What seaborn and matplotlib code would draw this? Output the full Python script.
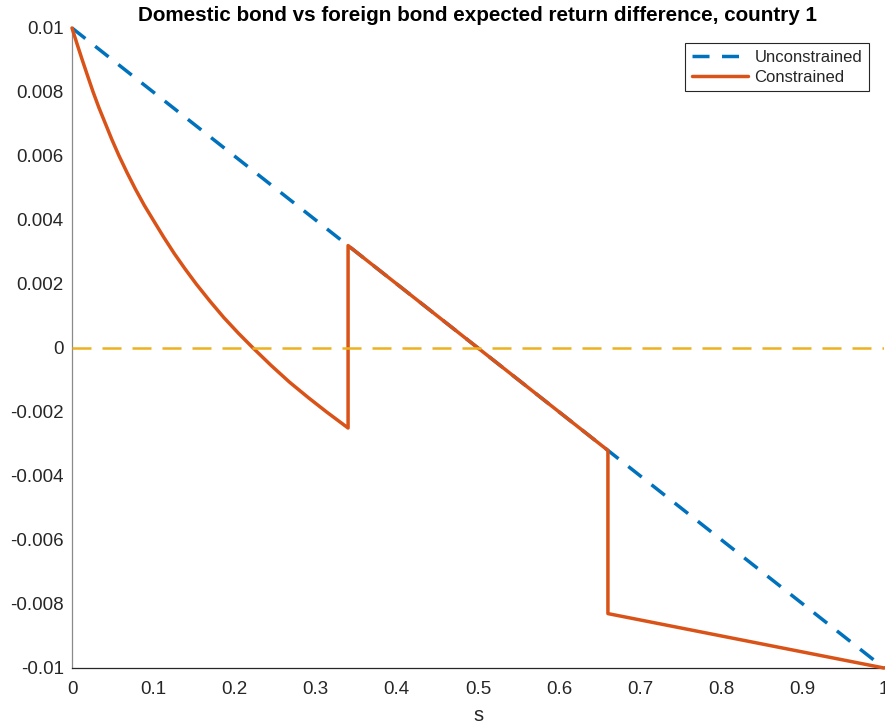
import matplotlib
matplotlib.use("Agg")
import matplotlib.pyplot as plt
import pandas as pd
import seaborn as sns

# Expected return difference (domestic minus foreign bond) against the state s
s_unconstrained = [0.0, 1.0]
r_unconstrained = [0.01, -0.01]

s_constrained = [0.0, 0.006, 0.012, 0.019, 0.026, 0.033, 0.041, 0.049, 0.058,
                 0.068, 0.078, 0.089, 0.100, 0.113, 0.126, 0.139, 0.153, 0.170,
                 0.187, 0.205, 0.223, 0.245, 0.268, 0.291, 0.3136, 0.34,
                 0.34, 0.66, 0.66, 1.0]
r_constrained = [0.0100, 0.00952, 0.00905, 0.00852, 0.0080, 0.00752, 0.00702,
                 0.00652, 0.0060, 0.00547, 0.00497, 0.00446, 0.0040, 0.00346,
                 0.00295, 0.00248, 0.0020, 0.00146, 0.00095, 0.00046, 0.0,
                 -0.00054, -0.00107, -0.00155, -0.0020, -0.0025,
                 0.0032, -0.0032, -0.0083, -0.0100]

x_ticks = [0.0, 0.1, 0.2, 0.3, 0.4, 0.5, 0.6, 0.7, 0.8, 0.9, 1.0]
x_tick_labels = ["0", "0.1", "0.2", "0.3", "0.4", "0.5", "0.6", "0.7", "0.8", "0.9", "1"]
y_ticks = [-0.01, -0.008, -0.006, -0.004, -0.002, 0.0, 0.002, 0.004, 0.006, 0.008, 0.01]
y_tick_labels = ["-0.01", "-0.008", "-0.006", "-0.004", "-0.002", "0",
                 "0.002", "0.004", "0.006", "0.008", "0.01"]

title = "Domestic bond vs foreign bond expected return difference, country 1"

BLUE = "#0072BD"
ORANGE = "#D95319"
YELLOW = "#EDB120"
DARK = "#262626"

sns.set_style("white")
plt.rcParams["font.family"] = ["Liberation Sans", "DejaVu Sans"]
plt.rcParams["axes.unicode_minus"] = False

df_u = pd.DataFrame({"s": s_unconstrained, "r": r_unconstrained})
df_c = pd.DataFrame({"s": s_constrained, "r": r_constrained})

W, H = 885, 724
fig = plt.figure(figsize=(W / 100, H / 100), dpi=100)
ax = fig.add_axes([72 / W, 1 - 668 / H, 812 / W, 640 / H])

sns.lineplot(data=df_u, x="s", y="r", ax=ax, sort=False, estimator=None,
             color=BLUE, linewidth=2.5, linestyle=(0, (4.9, 3.6)),
             label="Unconstrained", clip_on=False, zorder=3)
sns.lineplot(data=df_c, x="s", y="r", ax=ax, sort=False, estimator=None,
             color=ORANGE, linewidth=2.5, label="Constrained",
             clip_on=False, zorder=4)
ax.axhline(0, color=YELLOW, linewidth=1.8, linestyle=(0, (7.6, 4.4)), zorder=5)

ax.set_xlim(0, 1)
ax.set_ylim(-0.01, 0.01)
ax.set_xticks(x_ticks)
ax.set_xticklabels(x_tick_labels)
ax.set_yticks(y_ticks)
ax.set_yticklabels(y_tick_labels)
ax.tick_params(axis="both", direction="in", length=5.8, width=0.8,
               color=DARK, labelcolor=DARK, labelsize=13.5)
ax.tick_params(axis="y", pad=6)
ax.tick_params(axis="x", pad=9)

for side in ("top", "right"):
    ax.spines[side].set_visible(False)
ax.spines["left"].set_color("#8a8a8a")
ax.spines["bottom"].set_color(DARK)
for side in ("left", "bottom"):
    ax.spines[side].set_linewidth(0.9)

ax.set_xlabel("s", fontsize=14.5, color=DARK, labelpad=6)
ax.set_ylabel("")
ax.set_title(title, fontsize=14.9, fontweight="bold", color="black", pad=5)

leg = ax.legend(loc="upper right", fontsize=12, frameon=True, fancybox=False,
                edgecolor=DARK, framealpha=1, handlelength=3.35,
                handletextpad=0.4, borderpad=0.4, labelspacing=0.3,
                borderaxespad=0.9)
leg.get_frame().set_linewidth(0.8)

fig.savefig("out.png", dpi=100)
